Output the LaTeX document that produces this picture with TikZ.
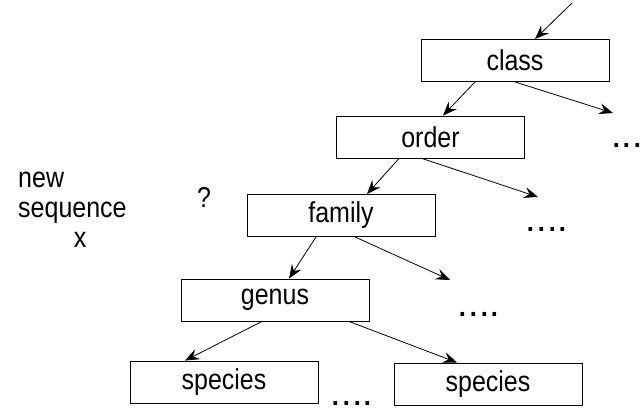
\documentclass[tikz,border=0pt]{standalone}
\usepackage{fontspec}
\usepackage{graphicx}
\setmainfont{Liberation Sans}
\usetikzlibrary{arrows.meta}
\newcommand\vst[1]{\scalebox{1}[1.15]{#1}}
\begin{document}
\begin{tikzpicture}[x=1pt,y=-1pt,
  box/.style={draw, line width=0.9pt, minimum width=188pt, minimum height=42pt, inner sep=0pt, font=\fontsize{25}{30}\selectfont},
  lbl/.style={inner sep=0pt, font=\fontsize{25}{30}\selectfont},
  dotsl/.style={inner sep=0pt, anchor=base, text depth=0pt, text height=5pt, font=\fontsize{38}{40}\selectfont},
  arr/.style={line width=0.8pt, -{Stealth[length=14pt,width=11pt,inset=5pt]}}]
\useasboundingbox (0,0) rectangle (644,407);
\node[box] (class) at (515,60.5) {\vst{class}};
\node[box] (order) at (430.5,137) {\vst{order}};
\node[box] (family) at (341,215.5) {\vst{family}};
\node[box] (genus) at (275,300) {\vst{genus}};
\node[box] (specL) at (224,382) {\vst{species}};
\node[box] (specR) at (488,384) {\vst{species}};
\node[lbl, anchor=base west] (new) at (18,187) {\vst{new}};
\node[lbl, anchor=base west] (seq) at (18,217) {\vst{sequence}};
\node[lbl, anchor=base] (x) at (80,247) {\vst{x}};
\node[lbl] (q) at (204,197) {\vst{?}};
\node[dotsl] (d1) at (627,147) {...};
\node[dotsl] (d2) at (547,231) {....};
\node[dotsl] (d3) at (479,316) {....};
\node[dotsl] (d4) at (352,405) {....};
\coordinate (top) at (572,3);
\coordinate (e1) at (613,113);
\coordinate (e2) at (538,197);
\coordinate (e3) at (450,280);
\draw[arr] (top) -- ([xshift=20pt]class.north);
\draw[arr] ([xshift=-40pt]class.south) -- ([xshift=12.5pt]order.north);
\draw[arr] (class.south) -- (e1);
\draw[arr] ([xshift=-31.5pt]order.south) -- ([xshift=26pt]family.north);
\draw[arr] ([xshift=-8.5pt]order.south) -- (e2);
\draw[arr] ([xshift=-25pt]family.south) -- ([xshift=14pt]genus.north);
\draw[arr] ([xshift=14pt]family.south) -- (e3);
\draw[arr] ([xshift=-13pt]genus.south) -- ([xshift=-39pt]specL.north);
\draw[arr] ([xshift=74pt]genus.south) -- ([xshift=-31pt]specR.north);
\end{tikzpicture}
\end{document}
